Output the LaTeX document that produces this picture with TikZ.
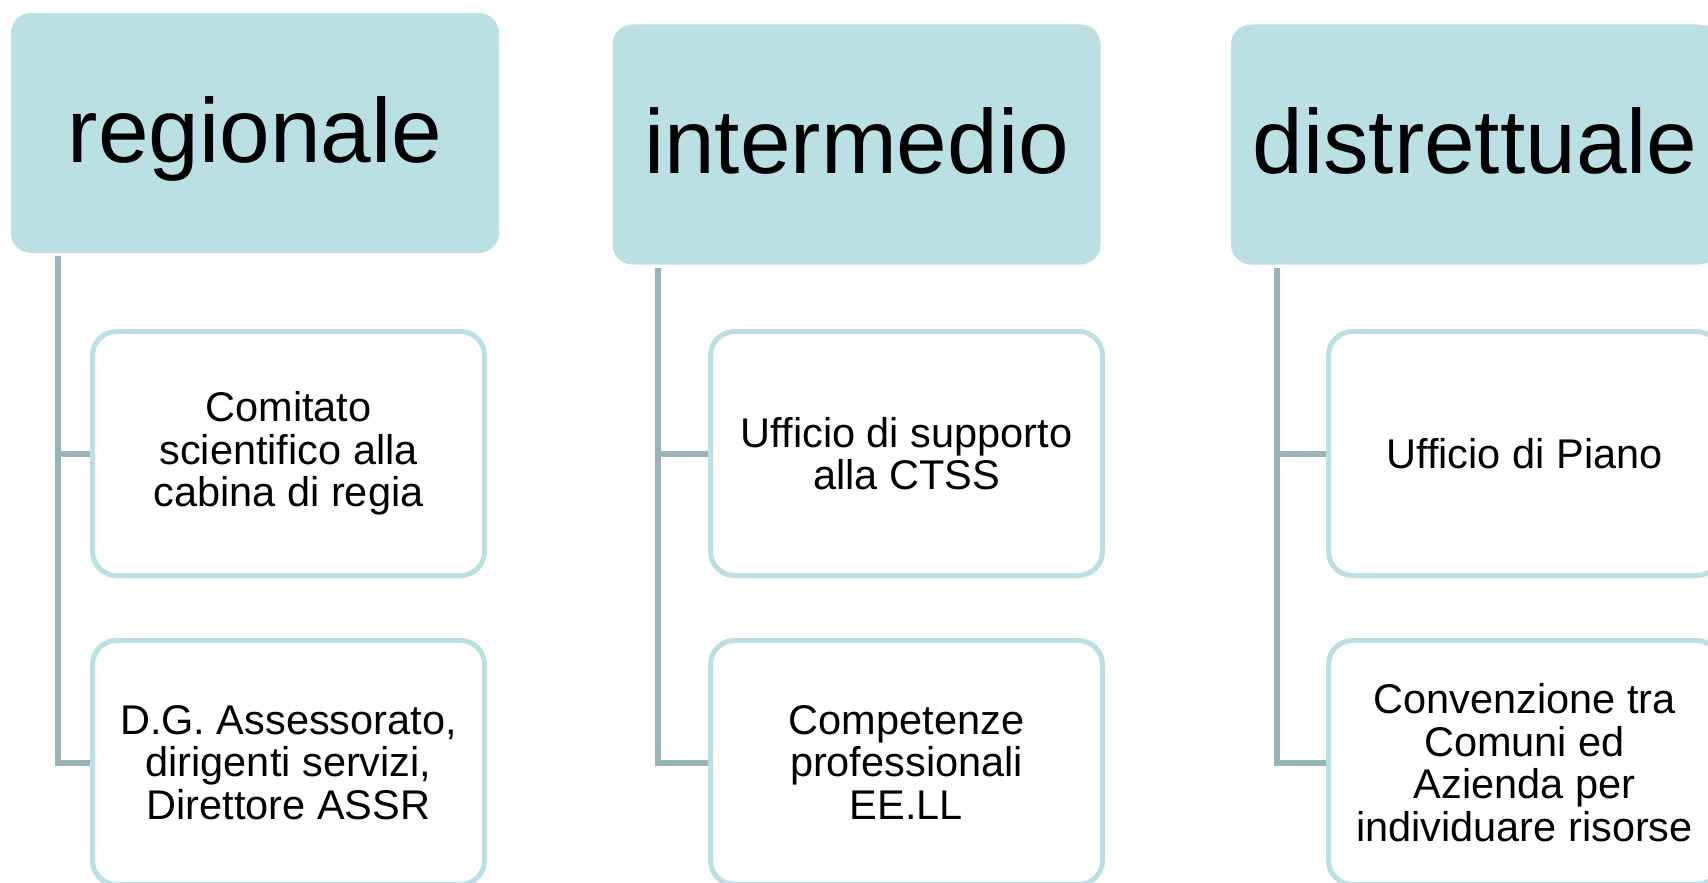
\documentclass[tikz,border=0pt]{standalone}
\usepackage{fontspec}
\setmainfont{Liberation Sans}
\definecolor{headfill}{RGB}{187,224,227}
\definecolor{boxline}{RGB}{187,224,227}
\definecolor{linkgray}{RGB}{152,180,185}
\tikzset{
	tier/.style={rectangle, rounded corners=20pt, fill=headfill, minimum width=488pt, minimum height=240pt, inner sep=0pt, text height=77pt, text depth=19pt, font=\fontsize{91}{100}\selectfont},
	office/.style={rectangle, rounded corners=24pt, draw=boxline, line width=5pt, fill=white, minimum width=392pt, minimum height=244pt, inner sep=0pt, align=center, font=\fontsize{41.5}{42.5}\selectfont},
	trunk/.style={draw=linkgray, line width=6pt}
}
\begin{document}
\begin{tikzpicture}[x=1pt, y=-1pt, line join=miter]
	%Frame
	\useasboundingbox (0,0) rectangle (1708,883);
	\clip (0,0) rectangle (1708,883);

	%Coordinates
	\coordinate (c1) at (255,133);
	\coordinate (c2) at (856.5,144.5);
	\coordinate (c3) at (1475,144.5);

	%Levels
	\node[tier] (reg) at (c1) {regionale};
	\node[tier] (int) at (c2) {intermedio};
	\node[tier] (dis) at (c3) {distrettuale};

	%Offices
	\node[office] (regA) at (288.5,453.5) {Comitato\\scientifico alla\\cabina di regia};
	\node[office] (regB) at (288.5,762.5) {D.G. Assessorato,\\dirigenti servizi,\\Direttore ASSR};
	\node[office] (intA) at (906.5,453.5) {Ufficio di supporto\\alla CTSS};
	\node[office] (intB) at (906.5,762.5) {Competenze\\professionali\\EE.LL};
	\node[office] (disA) at (1524.5,453.5) {Ufficio di Piano};
	\node[office] (disB) at (1524.5,762.5) {Convenzione tra\\Comuni ed\\Azienda per\\individuare risorse};

	%Connectors
	\draw[trunk] ([xshift=47pt,yshift=-3pt]reg.south west) |- (regA.west);
	\draw[trunk] ([xshift=47pt,yshift=-3pt]reg.south west) |- (regB.west);
	\draw[trunk] ([xshift=46pt,yshift=-3pt]int.south west) |- (intA.west);
	\draw[trunk] ([xshift=46pt,yshift=-3pt]int.south west) |- (intB.west);
	\draw[trunk] ([xshift=46pt,yshift=-3pt]dis.south west) |- (disA.west);
	\draw[trunk] ([xshift=46pt,yshift=-3pt]dis.south west) |- (disB.west);
\end{tikzpicture}
\end{document}
